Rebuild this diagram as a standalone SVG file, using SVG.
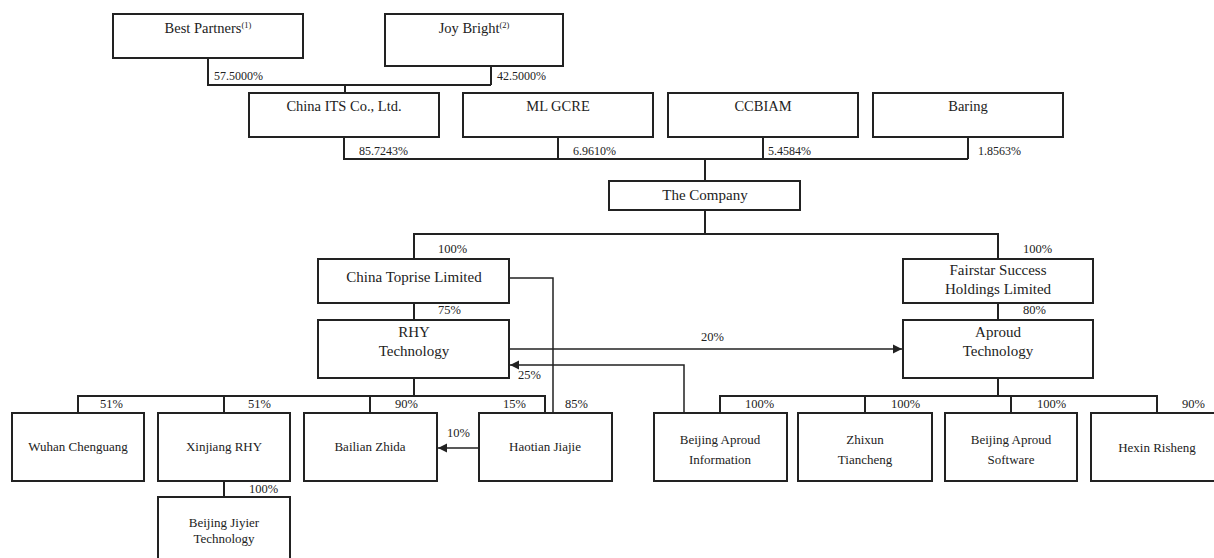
<svg xmlns="http://www.w3.org/2000/svg" width="1214" height="558" viewBox="0 0 1214 558">
<style>
.bx{fill:#fff;stroke:#222;stroke-width:2}
.t{font-family:"Liberation Serif","Times New Roman",serif;fill:#222;text-anchor:middle}
.top{font-size:14.5px}
.mid{font-size:15px}
.low{font-size:13px}
.p{font-family:"Liberation Serif","Times New Roman",serif;fill:#222;font-size:12px}
.pm{font-size:12.5px}
.c{fill:none;stroke:#222;stroke-width:2}
.ca{fill:none;stroke:#222;stroke-width:1.5}
</style>
<defs>
<marker id="ah" markerUnits="userSpaceOnUse" markerWidth="10" markerHeight="10" refX="9" refY="5" orient="auto">
<path d="M0,0.5 L9,5 L0,9.5 Z" fill="#222"/>
</marker>
</defs>
<g id="connectors">
<path class="c" d="M208,58 V85 H491 M491,66 V85 M345,85 V93"/>
<path class="c" d="M344,137 V159 H968 M558,137 V159 M763,137 V159 M968,137 V159 M705,159 V181"/>
<path class="c" d="M705,210 V234 M414,259 V234 H998 V259"/>
<path class="c" d="M414,303 V320 M998,303 V320"/>
<path class="ca" d="M509,278 H553 V413"/>
<path class="ca" d="M509,349 H902" marker-end="url(#ah)"/>
<path class="ca" d="M684,413 V365 H510" marker-end="url(#ah)"/>
<path class="c" d="M414,378 V396 M78,413 V396 H545 V413 M224,396 V413 M370,396 V413"/>
<path class="c" d="M224,481 V497"/>
<path class="ca" d="M479,448 H438" marker-end="url(#ah)"/>
<path class="c" d="M998,378 V396 M720,413 V396 H1157 V413 M865,396 V413 M1011,396 V413"/>
</g>
<g id="labels">
<text class="p" x="214" y="80">57.5000%</text>
<text class="p" x="497" y="80">42.5000%</text>
<text class="p" x="359" y="155">85.7243%</text>
<text class="p" x="573" y="155">6.9610%</text>
<text class="p" x="768" y="155">5.4584%</text>
<text class="p" x="978" y="155">1.8563%</text>
<text class="p pm" x="438" y="253">100%</text>
<text class="p pm" x="1023" y="253">100%</text>
<text class="p pm" x="438" y="314">75%</text>
<text class="p pm" x="1023" y="314">80%</text>
<text class="p pm" x="701" y="341">20%</text>
<text class="p pm" x="518" y="379">25%</text>
<text class="p pm" x="100" y="408">51%</text>
<text class="p pm" x="248" y="408">51%</text>
<text class="p pm" x="395" y="408">90%</text>
<text class="p pm" x="503" y="408">15%</text>
<text class="p pm" x="565" y="408">85%</text>
<text class="p pm" x="447" y="437">10%</text>
<text class="p pm" x="249" y="493">100%</text>
<text class="p pm" x="745" y="408">100%</text>
<text class="p pm" x="891" y="408">100%</text>
<text class="p pm" x="1037" y="408">100%</text>
<text class="p pm" x="1182" y="408">90%</text>
</g>
<g id="best-partners"><rect class="bx" x="113" y="14" width="190" height="44"/><text class="t top" x="208" y="33">Best Partners<tspan font-size="8.5px" dy="-5">(1)</tspan></text></g>
<g id="joy-bright"><rect class="bx" x="385" y="14" width="178" height="52"/><text class="t top" x="474" y="33">Joy Bright<tspan font-size="8.5px" dy="-5">(2)</tspan></text></g>
<g id="china-its"><rect class="bx" x="249" y="93" width="190" height="44"/><text class="t top" x="344" y="111">China ITS Co., Ltd.</text></g>
<g id="ml-gcre"><rect class="bx" x="463" y="93" width="190" height="44"/><text class="t top" x="558" y="111">ML GCRE</text></g>
<g id="ccbiam"><rect class="bx" x="668" y="93" width="190" height="44"/><text class="t top" x="763" y="111">CCBIAM</text></g>
<g id="baring"><rect class="bx" x="873" y="93" width="190" height="44"/><text class="t top" x="968" y="111">Baring</text></g>
<g id="company"><rect class="bx" x="609" y="181" width="191" height="29"/><text class="t mid" x="705" y="200">The Company</text></g>
<g id="china-toprise"><rect class="bx" x="318" y="259" width="191" height="44"/><text class="t mid" x="414" y="282">China Toprise Limited</text></g>
<g id="fairstar"><rect class="bx" x="903" y="259" width="190" height="44"/><text class="t mid" x="998" y="275">Fairstar Success</text><text class="t mid" x="998" y="294">Holdings Limited</text></g>
<g id="rhy"><rect class="bx" x="318" y="320" width="191" height="58"/><text class="t mid" x="414" y="337">RHY</text><text class="t mid" x="414" y="356">Technology</text></g>
<g id="aproud"><rect class="bx" x="903" y="320" width="190" height="58"/><text class="t mid" x="998" y="337">Aproud</text><text class="t mid" x="998" y="356">Technology</text></g>
<g id="wuhan"><rect class="bx" x="12" y="413" width="132" height="68"/><text class="t low" x="78" y="451">Wuhan Chenguang</text></g>
<g id="xinjiang"><rect class="bx" x="158" y="413" width="132" height="68"/><text class="t low" x="224" y="451">Xinjiang RHY</text></g>
<g id="bailian"><rect class="bx" x="304" y="413" width="133" height="68"/><text class="t low" x="370" y="451">Bailian Zhida</text></g>
<g id="haotian"><rect class="bx" x="479" y="413" width="133" height="68"/><text class="t low" x="545" y="451">Haotian Jiajie</text></g>
<g id="jiyier"><rect class="bx" x="158" y="497" width="132" height="72"/><text class="t low" x="224" y="527">Beijing Jiyier</text><text class="t low" x="224" y="543">Technology</text></g>
<g id="ba-info"><rect class="bx" x="654" y="413" width="133" height="68"/><text class="t low" x="720" y="444">Beijing Aproud</text><text class="t low" x="720" y="464">Information</text></g>
<g id="zhixun"><rect class="bx" x="798" y="413" width="134" height="68"/><text class="t low" x="865" y="444">Zhixun</text><text class="t low" x="865" y="464">Tiancheng</text></g>
<g id="ba-software"><rect class="bx" x="945" y="413" width="132" height="68"/><text class="t low" x="1011" y="444">Beijing Aproud</text><text class="t low" x="1011" y="464">Software</text></g>
<g id="hexin"><rect class="bx" x="1091" y="413" width="132" height="68"/><text class="t low" x="1157" y="452">Hexin Risheng</text></g>
</svg>
